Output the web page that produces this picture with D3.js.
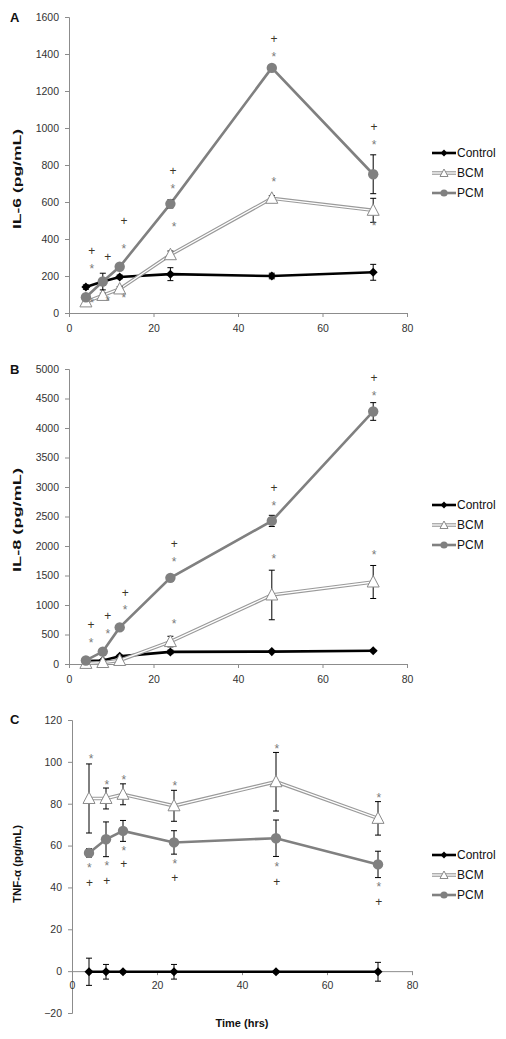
<!DOCTYPE html>
<html><head><meta charset="utf-8">
<script src="https://cdn.jsdelivr.net/npm/d3@7"></script>
<style>
html,body{margin:0;padding:0;background:#fff;}
svg{display:block;font-family:"Liberation Sans",Arial,sans-serif;}
</style></head>
<body><svg id="chart" width="506" height="1039"></svg>
<script>
// ---------- data ----------
const hours = [4, 8, 12, 24, 48, 72];
const seriesNames = ["Control", "BCM", "PCM"];
const xTicks = [0, 20, 40, 60, 80];

// Panel A: IL-6 (pg/mL)
const il6Control = [140, 170, 195, 210, 200, 220];
const il6ControlErr = [12, 10, 10, 35, 15, 43];
const il6BCM = [60, 95, 130, 315, 620, 555];
const il6BCMErr = [10, 12, 12, 20, 15, 65];
const il6PCM = [85, 170, 250, 590, 1325, 750];
const il6PCMErr = [10, 45, 12, 22, 10, 105];
const il6Ticks = [0, 200, 400, 600, 800, 1000, 1200, 1400, 1600];
const il6Stars = [[5.4, 254], [5.4, 66], [9.2, 81], [13, 92], [13, 362], [24.6, 686], [24.9, 481], [48.5, 1400], [48.5, 724], [72.2, 919], [72.2, 486]];
const il6Plus = [[5.4, 335], [9.2, 303], [13, 497], [24.6, 767], [48.5, 1481], [72.2, 1005]];

// Panel B: IL-8 (pg/mL)
const il8Control = [50, 60, 130, 205, 210, 225];
const il8ControlErr = [10, 10, 20, 30, 10, 15];
const il8BCM = [10, 25, 60, 380, 1170, 1390];
const il8BCMErr = [10, 10, 20, 90, 420, 280];
const il8PCM = [60, 210, 620, 1460, 2425, 4280];
const il8PCMErr = [20, 20, 20, 30, 95, 150];
const il8Ticks = [0, 500, 1000, 1500, 2000, 2500, 3000, 3500, 4000, 4500, 5000];
const il8Stars = [[5.2, 395], [9.2, 547], [13.3, 954], [24.9, 1763], [24.9, 712], [48.5, 2717], [48.5, 1819], [72.2, 4582], [72.2, 1887]];
const il8Plus = [[5.2, 666], [9.2, 819], [13.3, 1209], [24.9, 2034], [48.5, 2988], [72.2, 4853]];

// Panel C: TNF-α (pg/mL)
const tnfControl = [-0.3, -0.3, -0.3, -0.3, -0.3, -0.3];
const tnfControlErr = [6.5, 3.5, 0.5, 3.5, 0.5, 4.5];
const tnfBCM = [82.5, 82.5, 84.5, 79, 90.5, 73];
const tnfBCMErr = [16.5, 5, 5, 7.4, 14, 8];
const tnfPCM = [56.5, 63, 67, 61.5, 63.5, 51];
const tnfPCMErr = [2, 8.3, 5, 5.6, 8.7, 6.3];
const tnfTicks = [-20, 0, 20, 40, 60, 80, 100, 120];
const tnfStars = [[4.5, 102.5], [8.2, 90.1], [12.2, 92.7], [24.2, 89.5], [48.2, 107.3], [72.2, 83.8],
                  [4.1, 50.4], [8.2, 51.3], [12.2, 58.8], [24.2, 52.4], [48.2, 50.8], [72.2, 41.3]];
const tnfPlus = [[4.1, 42.4], [8.2, 43.3], [12.2, 51.2], [24.2, 44.8], [48.2, 42.9], [72.2, 33.3]];

// ---------- drawing ----------
const svg = d3.select("#chart");
const AXIS = "#8c8c8c", TXT = "#333";

function panel(cfg) {
  const x = d3.scaleLinear().domain([0, 80]).range([cfg.x0, cfg.x1]);
  const y = d3.scaleLinear().domain(cfg.yDomain).range([cfg.yBottom, cfg.yTop]);
  const g = svg.append("g");

  // y axis
  const ya = g.append("g").attr("transform", `translate(${cfg.x0},0)`)
    .call(d3.axisLeft(y).tickValues(cfg.yTicks).tickSize(4).tickPadding(6).tickFormat(d3.format("d")));
  ya.select(".domain").attr("stroke", AXIS);
  ya.selectAll(".tick line").attr("stroke", AXIS);
  ya.selectAll("text").attr("fill", TXT).style("font-size", "10.5px").style("font-family", "Liberation Sans, Arial, sans-serif");

  // x axis
  const xa = g.append("g").attr("transform", `translate(0,${y(cfg.xAxisAt)})`)
    .call(d3.axisBottom(x).tickValues(xTicks).tickSize(4).tickPadding(cfg.xPad).tickSizeOuter(0));
  xa.select(".domain").attr("stroke", AXIS);
  xa.selectAll(".tick line").attr("stroke", AXIS);
  xa.selectAll("text").attr("fill", TXT).style("font-size", "10.5px").style("font-family", "Liberation Sans, Arial, sans-serif");

  // y title
  g.append("text").attr("transform", `translate(${cfg.titleX},${cfg.titleY}) rotate(-90)`)
    .attr("text-anchor", "middle").attr("dominant-baseline", "central")
    .attr("font-weight", "bold").attr("font-size", 11).attr("fill", "#111")
    .attr("textLength", cfg.titleLen).attr("lengthAdjust", "spacingAndGlyphs")
    .text(cfg.title);
  // panel letter
  g.append("text").attr("x", cfg.letterX).attr("y", cfg.letterY)
    .attr("font-weight", "bold").attr("font-size", 13).attr("fill", "#111")
    .attr("dominant-baseline", "central").text(cfg.letter);

  const line = d3.line().x((d, i) => x(hours[i])).y(d => y(d));
  const styles = [
    {stroke: "#000", w: 2.6},
    {stroke: "#9a9a9a", w: 3.6, inner: "#fff", iw: 1.3},
    {stroke: "#808080", w: 2.6}
  ];
  const sets = [[cfg.control, cfg.controlErr], [cfg.bcm, cfg.bcmErr], [cfg.pcm, cfg.pcmErr]];

  function marker(sel, k, cx, cy) {
    if (k === 0) {
      sel.append("path").attr("d", d3.symbol(d3.symbolDiamond2, 52)()).attr("transform", `translate(${cx},${cy})`)
        .attr("fill", "#000");
    } else if (k === 1) {
      sel.append("path").attr("d", "M0,-6.5L6,5L-6,5Z").attr("transform", `translate(${cx},${cy})`)
        .attr("fill", "#fff").attr("stroke", "#8a8a8a").attr("stroke-width", 1);
    } else {
      sel.append("circle").attr("cx", cx).attr("cy", cy).attr("r", 5.2).attr("fill", "#808080");
    }
  }

  sets.forEach(([vals, errs], k) => {
    const s = styles[k];
    const sg = g.append("g");
    sg.append("path").attr("d", line(vals)).attr("fill", "none").attr("stroke", s.stroke).attr("stroke-width", s.w);
    if (s.inner) sg.append("path").attr("d", line(vals)).attr("fill", "none").attr("stroke", s.inner).attr("stroke-width", s.iw);
    // error bars
    vals.forEach((v, i) => {
      const cx = x(hours[i]);
      const yt = y(v + errs[i]), yb = y(v - errs[i]);
      sg.append("line").attr("x1", cx).attr("x2", cx).attr("y1", yt).attr("y2", yb).attr("stroke", "#000").attr("stroke-width", 1);
      sg.append("line").attr("x1", cx - 3).attr("x2", cx + 3).attr("y1", yt).attr("y2", yt).attr("stroke", "#000").attr("stroke-width", 1);
      sg.append("line").attr("x1", cx - 3).attr("x2", cx + 3).attr("y1", yb).attr("y2", yb).attr("stroke", "#000").attr("stroke-width", 1);
    });
    vals.forEach((v, i) => marker(sg, k, x(hours[i]), y(v)));
  });

  // significance marks
  cfg.stars.forEach(([hx, v]) => {
    g.append("text").attr("x", x(hx)).attr("y", y(v) + 6.5).attr("text-anchor", "middle")
      .attr("font-size", 12).attr("fill", "#7a7a7a").text("*");
  });
  cfg.plus.forEach(([hx, v]) => {
    g.append("text").attr("x", x(hx)).attr("y", y(v) + 4.3).attr("text-anchor", "middle")
      .attr("font-size", 12).attr("fill", "#3b3526").text("+");
  });

  // legend
  seriesNames.forEach((name, k) => {
    const ly = cfg.legendY + k * 20;
    const s = styles[k];
    const lg = g.append("g");
    lg.append("line").attr("x1", 432).attr("x2", 456).attr("y1", ly).attr("y2", ly).attr("stroke", s.stroke).attr("stroke-width", s.w);
    if (s.inner) lg.append("line").attr("x1", 432).attr("x2", 456).attr("y1", ly).attr("y2", ly).attr("stroke", s.inner).attr("stroke-width", s.iw);
    if (k === 0) lg.append("path").attr("d", d3.symbol(d3.symbolDiamond2, 30)()).attr("transform", `translate(444,${ly})`).attr("fill", "#000");
    else if (k === 1) lg.append("path").attr("d", "M0,-4L4,3.5L-4,3.5Z").attr("transform", `translate(444,${ly})`).attr("fill", "#fff").attr("stroke", "#8a8a8a");
    else lg.append("circle").attr("cx", 444).attr("cy", ly).attr("r", 3.6).attr("fill", "#808080");
    lg.append("text").attr("x", 457).attr("y", ly).attr("dominant-baseline", "central")
      .attr("font-size", 12).attr("fill", "#111").text(name);
  });
}

panel({letter: "A", letterX: 10, letterY: 17, title: "IL-6 (pg/mL)", titleX: 17, titleY: 179, titleLen: 100,
  x0: 69, x1: 407, yTop: 17, yBottom: 313, yDomain: [0, 1600], yTicks: il6Ticks, xAxisAt: 0, xPad: 8,
  control: il6Control, controlErr: il6ControlErr, bcm: il6BCM, bcmErr: il6BCMErr, pcm: il6PCM, pcmErr: il6PCMErr,
  stars: il6Stars, plus: il6Plus, legendY: 153});

panel({letter: "B", letterX: 10, letterY: 369, title: "IL-8 (pg/mL)", titleX: 17, titleY: 520, titleLen: 104,
  x0: 69, x1: 407, yTop: 369, yBottom: 664, yDomain: [0, 5000], yTicks: il8Ticks, xAxisAt: 0, xPad: 8,
  control: il8Control, controlErr: il8ControlErr, bcm: il8BCM, bcmErr: il8BCMErr, pcm: il8PCM, pcmErr: il8PCMErr,
  stars: il8Stars, plus: il8Plus, legendY: 505});

panel({letter: "C", letterX: 10, letterY: 719, title: "TNF-α (pg/mL)", titleX: 17, titleY: 864, titleLen: 78,
  x0: 72, x1: 412, yTop: 720, yBottom: 1013, yDomain: [-20, 120], yTicks: tnfTicks, xAxisAt: 0, xPad: 6,
  control: tnfControl, controlErr: tnfControlErr, bcm: tnfBCM, bcmErr: tnfBCMErr, pcm: tnfPCM, pcmErr: tnfPCMErr,
  stars: tnfStars, plus: tnfPlus, legendY: 855});

svg.append("text").attr("x", 242).attr("y", 1023).attr("text-anchor", "middle").attr("dominant-baseline", "central")
  .attr("font-weight", "bold").attr("font-size", 11).attr("fill", "#111").text("Time (hrs)");
</script></body></html>
